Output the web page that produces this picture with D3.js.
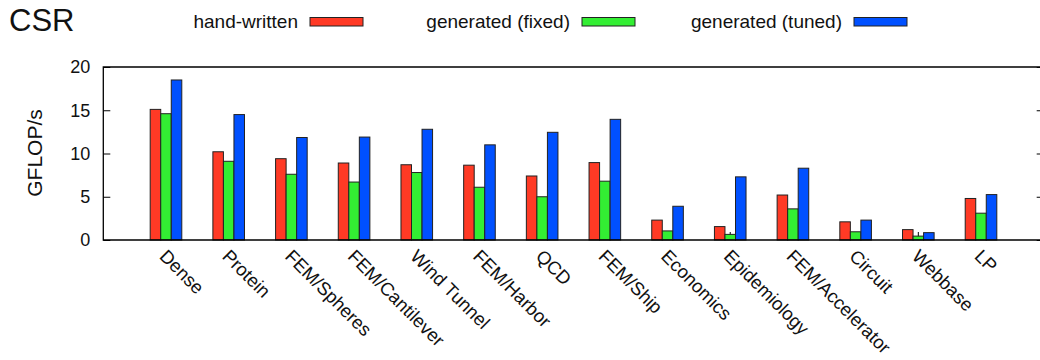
<!DOCTYPE html>
<html>
<head>
<meta charset="utf-8">
<script src="https://cdn.jsdelivr.net/npm/d3@7/dist/d3.min.js"></script>
<style>
  html, body { margin: 0; padding: 0; background: #fff; }
  svg text { font-family: "Liberation Sans", Arial, Helvetica, sans-serif; fill: #111; }
</style>
</head>
<body>
<div id="chart"></div>
<script>
// matrices (x categories)
const matrices = ['Dense', 'Protein', 'FEM/Spheres', 'FEM/Cantilever', 'Wind Tunnel', 'FEM/Harbor',
  'QCD', 'FEM/Ship', 'Economics', 'Epidemiology', 'FEM/Accelerator', 'Circuit', 'Webbase', 'LP'];

// GFLOP/s per series
const handWritten = [15.1, 10.2, 9.4, 8.9, 8.7, 8.65, 7.4, 8.95, 2.3, 1.55, 5.2, 2.1, 1.2, 4.8];
const genFixed    = [14.6, 9.1, 7.6, 6.7, 7.8, 6.1, 5.0, 6.8, 1.05, 0.65, 3.6, 0.95, 0.45, 3.1];
const genTuned    = [18.5, 14.5, 11.85, 11.9, 12.8, 11.0, 12.45, 13.95, 3.9, 7.3, 8.3, 2.3, 0.85, 5.25];

const yTicks = [0, 5, 10, 15, 20];

const seriesNames = ['hand-written', 'generated (fixed)', 'generated (tuned)'];
const seriesColors = ['#ff3a25', '#33ee33', '#0050ff'];
const seriesValues = [handWritten, genFixed, genTuned];

const W = 1040, H = 360;
const plotL = 103.3, plotR = 1043.7, plotT = 67, plotB = 240;

const svg = d3.select('#chart').append('svg')
  .attr('width', W).attr('height', H);

const x = d3.scaleLinear().domain([-1, matrices.length]).range([plotL, plotR]);
const y = d3.scaleLinear().domain([0, 20]).range([plotB, plotT]);
const barW = x(0.168) - x(0);

// x ticks (behind bars)
svg.append('g')
  .selectAll('line')
  .data(matrices)
  .join('line')
  .attr('x1', (d, i) => x(i)).attr('x2', (d, i) => x(i))
  .attr('y1', plotB).attr('y2', plotB - 8)
  .attr('stroke', '#000').attr('stroke-width', 1);

// bars
seriesValues.forEach((vals, s) => {
  svg.append('g')
    .selectAll('rect')
    .data(vals)
    .join('rect')
    .attr('x', (d, i) => x(i) + (s - 1.5) * barW)
    .attr('y', d => y(d))
    .attr('width', barW)
    .attr('height', d => plotB - y(d))
    .attr('fill', seriesColors[s])
    .attr('stroke', '#222')
    .attr('stroke-width', 1);
});

// frame: left, bottom, top
svg.append('path')
  .attr('d', `M${plotR},${plotT}H${plotL}V${plotB}H${plotR}`)
  .attr('fill', 'none').attr('stroke', '#000').attr('stroke-width', 1.3);

// y ticks, inside, mirrored on right
const yAxisL = d3.axisLeft(y).tickValues(yTicks).tickSize(-7).tickPadding(13);
const gy = svg.append('g').attr('transform', `translate(${plotL},0)`).call(yAxisL);
gy.select('.domain').remove();
gy.selectAll('text').style('font-size', '18px')
  .style('font-family', '"Liberation Sans", Arial, sans-serif').attr('fill', '#111');
const gyr = svg.append('g').attr('transform', `translate(${plotR},0)`)
  .call(d3.axisRight(y).tickValues(yTicks).tickSize(-7).tickFormat(''));
gyr.select('.domain').remove();

// x labels, rotated
svg.append('g')
  .selectAll('text')
  .data(matrices)
  .join('text')
  .attr('transform', (d, i) => `translate(${x(i) + 2},${plotB + 8}) rotate(45)`)
  .attr('dy', '0.72em')
  .style('font-size', '18.5px')
  .text(d => d);

// y label
svg.append('text')
  .attr('transform', `translate(42,153) rotate(-90)`)
  .attr('text-anchor', 'middle')
  .style('font-size', '21px')
  .text('GFLOP/s');

// title
svg.append('text')
  .attr('x', 9).attr('y', 31)
  .style('font-size', '31px')
  .text('CSR');

// legend
const legendX = [298, 570, 842];
const legend = svg.append('g')
  .selectAll('g')
  .data(seriesNames)
  .join('g')
  .attr('transform', (d, i) => `translate(${legendX[i]},0)`);
legend.append('text')
  .attr('x', 0).attr('y', 28)
  .attr('text-anchor', 'end')
  .style('font-size', '19px')
  .text(d => d);
legend.append('rect')
  .attr('x', 12).attr('y', 17.5)
  .attr('width', 53).attr('height', 8.5)
  .attr('fill', (d, i) => seriesColors[i])
  .attr('stroke', '#222').attr('stroke-width', 1);
</script>
</body>
</html>
